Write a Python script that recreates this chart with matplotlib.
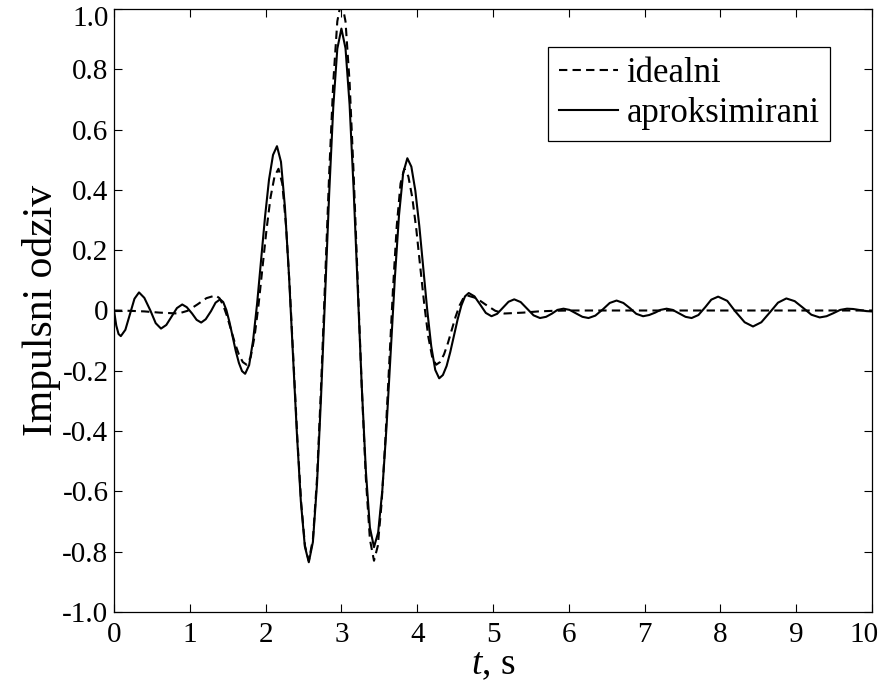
import matplotlib
matplotlib.use('Agg')
import matplotlib.pyplot as plt
import matplotlib.transforms as mtransforms

# data
t_apr = [0.00, 0.03, 0.06, 0.09, 0.15, 0.21, 0.27, 0.33, 0.40, 0.48, 0.55, 0.62,
         0.69, 0.76, 0.83, 0.90, 0.96, 1.03, 1.09, 1.15, 1.21, 1.28, 1.34, 1.40,
         1.441, 1.483, 1.524, 1.565, 1.606, 1.648, 1.689, 1.73,
         1.783, 1.835, 1.888, 1.94, 1.993, 2.045, 2.098, 2.15,
         2.203, 2.255, 2.308, 2.36, 2.413, 2.465, 2.518, 2.57,
         2.624, 2.678, 2.731, 2.785, 2.839, 2.893, 2.946, 3.00,
         3.054, 3.108, 3.161, 3.215, 3.269, 3.323, 3.376, 3.43,
         3.485, 3.54, 3.595, 3.65, 3.705, 3.76, 3.815, 3.87,
         3.923, 3.975, 4.028, 4.08, 4.133, 4.185, 4.238, 4.29,
         4.339, 4.388, 4.436, 4.485, 4.534, 4.583, 4.631, 4.68,
         4.755, 4.83, 4.905, 4.98, 5.055, 5.13, 5.205, 5.28, 5.365, 5.45, 5.535, 5.62,
         5.70, 5.78, 5.85, 5.93, 6.01, 6.10, 6.18, 6.26, 6.35, 6.45, 6.54, 6.63,
         6.72, 6.81, 6.89, 6.98, 7.06, 7.14, 7.21, 7.29, 7.37, 7.46, 7.54, 7.62,
         7.71, 7.80, 7.88, 7.97, 8.09, 8.20, 8.32, 8.43, 8.54, 8.65, 8.76, 8.87,
         8.98, 9.09, 9.20, 9.31, 9.40, 9.49, 9.58, 9.67, 9.75, 9.85, 9.93, 10.00]
h_apr = [0.000, -0.050, -0.078, -0.085, -0.064, -0.013, 0.039, 0.060, 0.042, 0.000, -0.042, -0.060,
         -0.048, -0.020, 0.008, 0.020, 0.011, -0.010, -0.031, -0.040, -0.029, -0.002, 0.026, 0.037,
         0.028, 0.001, -0.039, -0.087, -0.134, -0.174, -0.201, -0.210,
         -0.181, -0.099, 0.023, 0.168, 0.312, 0.434, 0.516, 0.545,
         0.493, 0.343, 0.119, -0.145, -0.409, -0.633, -0.783, -0.835,
         -0.768, -0.576, -0.289, 0.050, 0.389, 0.676, 0.868, 0.935,
         0.870, 0.683, 0.404, 0.075, -0.254, -0.533, -0.720, -0.785,
         -0.736, -0.596, -0.387, -0.140, 0.107, 0.316, 0.456, 0.505,
         0.477, 0.398, 0.280, 0.140, 0.000, -0.118, -0.197, -0.225,
         -0.214, -0.184, -0.138, -0.084, -0.029, 0.017, 0.047, 0.058,
         0.047, 0.020, -0.008, -0.019, -0.011, 0.009, 0.029, 0.037, 0.028, 0.006, -0.016, -0.025,
         -0.021, -0.010, 0.002, 0.006, 0.002, -0.010, -0.021, -0.025, -0.017, 0.004, 0.025, 0.033,
         0.025, 0.007, -0.011, -0.019, -0.015, -0.007, 0.002, 0.006, 0.002, -0.010, -0.021, -0.025,
         -0.015, 0.011, 0.036, 0.046, 0.032, -0.004, -0.039, -0.053, -0.039, -0.007, 0.026, 0.040,
         0.031, 0.009, -0.014, -0.023, -0.019, -0.009, 0.002, 0.006, 0.005, 0.001, -0.002, -0.003]

t_id = [0.00, 0.20, 0.40, 0.60, 0.85, 0.97, 1.10, 1.22, 1.34,
        1.391, 1.443, 1.494, 1.545, 1.596, 1.648, 1.699, 1.75,
        1.803, 1.855, 1.908, 1.96, 2.013, 2.065, 2.118, 2.17,
        2.22, 2.27, 2.32, 2.37, 2.42, 2.47, 2.52, 2.57,
        2.624, 2.678, 2.731, 2.785, 2.839, 2.893, 2.946, 3.00,
        3.054, 3.108, 3.161, 3.215, 3.269, 3.323, 3.376, 3.43,
        3.48, 3.53, 3.58, 3.63, 3.68, 3.73, 3.78, 3.83,
        3.883, 3.935, 3.988, 4.04, 4.093, 4.145, 4.198, 4.25,
        4.301, 4.353, 4.404, 4.455, 4.506, 4.558, 4.609, 4.66,
        4.78, 4.90, 5.03, 5.15, 5.40, 5.60, 5.80, 6.00, 10.00]
h_id = [0.000, -0.001, -0.003, -0.007, -0.010, -0.001, 0.020, 0.041, 0.050,
        0.041, 0.016, -0.021, -0.065, -0.109, -0.146, -0.171, -0.180,
        -0.155, -0.085, 0.021, 0.145, 0.270, 0.375, 0.445, 0.470,
        0.421, 0.280, 0.069, -0.180, -0.429, -0.640, -0.781, -0.830,
        -0.759, -0.558, -0.256, 0.100, 0.456, 0.758, 0.959, 1.030,
        0.959, 0.758, 0.456, 0.100, -0.256, -0.558, -0.759, -0.830,
        -0.781, -0.640, -0.429, -0.180, 0.069, 0.280, 0.421, 0.470,
        0.445, 0.375, 0.270, 0.145, 0.021, -0.085, -0.155, -0.180,
        -0.171, -0.146, -0.109, -0.065, -0.021, 0.016, 0.041, 0.050,
        0.041, 0.020, -0.001, -0.010, -0.007, -0.003, -0.001, 0.000, 0.000]

yticks = [-1.0, -0.8, -0.6, -0.4, -0.2, 0.0, 0.2, 0.4, 0.6, 0.8, 1.0]
ytick_labels = ['-1.0', '-0.8', '-0.6', '-0.4', '-0.2', '0', '0.2', '0.4', '0.6', '0.8', '1.0']
xticks = [0, 1, 2, 3, 4, 5, 6, 7, 8, 9, 10]

# Variables used in the plot
lin = 1.5        # line width
font_xl = 27     # x axis label
font_yl = 30     # y axis label
font_ax = 21     # tick labels
font_lg = 25     # legend

plt.rcParams['font.family'] = 'Liberation Serif'
plt.rcParams['mathtext.fontset'] = 'custom'
plt.rcParams['mathtext.rm'] = 'Liberation Serif'
plt.rcParams['mathtext.it'] = 'Liberation Serif:italic'

fig = plt.figure(figsize=(8.81, 6.93), dpi=100)
ax = fig.add_axes([114/881, 1 - 612/693, (872-114)/881, (612-9)/693])

ax.plot(t_id, h_id, 'k', lw=lin, dashes=(4, 2.5), label='idealni')
ax.plot(t_apr, h_apr, 'k-', lw=lin, label='aproksimirani')

ax.set_xlim(0, 10)
ax.set_ylim(-1, 1)
ax.set_xticks(xticks)
ax.set_xticklabels([str(x) for x in xticks], fontsize=font_ax)
ax.set_yticks(yticks)
ax.set_yticklabels(ytick_labels, fontsize=font_ax)
ax.tick_params(direction='in', length=6, width=0.8, top=True, right=True)
ax.tick_params(axis='x', pad=7)
ax.tick_params(axis='y', pad=4)
for s in ax.spines.values():
    s.set_linewidth(0.9)

# keep the outer tick labels inside the figure
lab10 = ax.get_xticklabels()[-1]
lab10.set_transform(lab10.get_transform() + mtransforms.ScaledTranslation(-8/100, 0, fig.dpi_scale_trans))
lab1 = ax.get_yticklabels()[-1]
lab1.set_transform(lab1.get_transform() + mtransforms.ScaledTranslation(0, -7/100, fig.dpi_scale_trans))

ax.set_xlabel('$t$, s', fontsize=font_xl, labelpad=0)
ax.set_ylabel('Impulsni odziv', fontsize=font_yl, labelpad=1)

leg = ax.legend(loc='upper right', bbox_to_anchor=((830-114)/758, (612-47)/603),
                borderaxespad=0, fontsize=font_lg, fancybox=False, framealpha=1,
                edgecolor='black', handlelength=1.7, handletextpad=0.25,
                borderpad=0.3, labelspacing=0.2)
leg.get_frame().set_linewidth(0.9)

plt.savefig('out.png', dpi=100)
